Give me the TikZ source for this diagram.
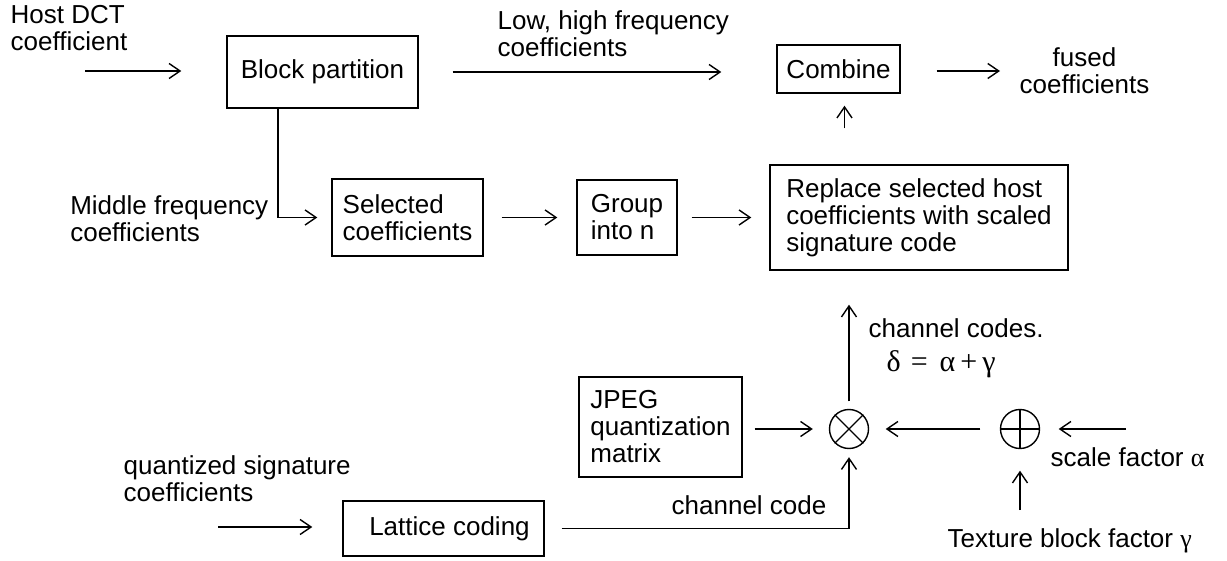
\documentclass[tikz,border=0pt]{standalone}
\usepackage{fontspec}
\setmainfont{Liberation Sans}
\newfontfamily\greek{Liberation Serif}
\usetikzlibrary{arrows.meta}

\begin{document}
\begin{tikzpicture}[x=1pt,y=-1pt,>={Straight Barb[length=11pt,width=15pt]},line width=1.4pt,
  font=\fontsize{26}{27}\selectfont,
  box/.style={draw,align=left,inner sep=2pt},
  txt/.style={align=left,inner sep=0pt},
  sum/.style={draw,circle,minimum size=39pt,inner sep=0pt}]

\useasboundingbox (0,0) rectangle (1227,561);

% Bloecke
\node[box,minimum width=191,minimum height=72] (part) at (322.5,72) {Block partition};
\node[box,minimum width=123,minimum height=48] (comb) at (838.5,69) {Combine};
\node[box,minimum width=151,minimum height=77] (sel) at (407.5,217.5) {Selected\\coefficients};
\node[box,minimum width=100,minimum height=75] (grp) at (627,217.5) {Group\\into n};
\node[box,minimum width=298,minimum height=105] (repl) at (919,217.5)
  {Replace selected host\\coefficients with scaled\\signature code};
\node[box,minimum width=163,minimum height=100] (jpeg) at (660.5,427) {JPEG\\quantization\\matrix};
\node[box,minimum width=201,minimum height=55] (lat) at (443.5,528.5) {\hspace{12pt}Lattice coding};

% Multiplikation und Addition
\node[sum] (mul) at (849,429) {};
\draw (mul.north west) -- (mul.south east) (mul.north east) -- (mul.south west);
\node[sum] (add) at (1020,429) {};
\draw (add.north) -- (add.south) (add.west) -- (add.east);

% Beschriftungen
\node[txt,anchor=north west] (hosttxt) at (10,5) {Host DCT\\coefficient};
\node[txt,anchor=north west] (lowtxt) at (497,10) {Low, high frequency\\coefficients};
\node[txt,align=center,anchor=north] (fusedtxt) at (1084.5,47) {fused\\coefficients};
\node[txt,anchor=north east] (midtxt) at (269,195) {Middle frequency\\coefficients};
\node[txt,anchor=north west] (codestxt) at (868,318) {channel codes.};
\node[txt,anchor=north west,font=\fontsize{30}{30}\selectfont\greek] (deltatxt) at (886,350)
  {δ\hspace{10pt}=\hspace{12pt}α\hspace{5pt}+\hspace{5pt}γ};
\node[txt,anchor=north west] (alphatxt) at (1050,447) {scale factor {\greek α}};
\node[txt,anchor=north west] (gammatxt) at (947,528) {Texture block factor {\greek γ}};
\node[txt,anchor=north west] (sigtxt) at (123,455) {quantized signature\\coefficients};
\node[txt,anchor=north west] (chantxt) at (671,495) {channel code};

% Eingaenge
\coordinate (hostin) at (85,71);
\coordinate (fusedout) at (1000,71);
\coordinate (alphain) at (1126,429);
\coordinate (gammain) at (1020,510);
\coordinate (sigin) at (218,527);

% Pfeile oben
\draw[->,shorten >=45pt] (hostin) -- (hostin -| part.west);
\draw[->,shorten <=34pt,shorten >=55pt] (part.east) -- (part.east -| comb.west);
\draw[->,shorten <=36pt] (comb.east |- fusedout) -- (fusedout);
\draw[->,shorten <=36pt,shorten >=12pt] ([xshift=6pt]comb.south |- repl.north) -- ([xshift=6pt]comb.south);

% Pfeile Mitte
\draw[->,shorten >=14pt] ([xshift=-44.5pt]part.south) |- (sel);
\draw[->,shorten <=18pt,shorten >=19pt] (sel) -- (grp);
\draw[->,shorten <=14pt,shorten >=18pt] (grp) -- (repl);
\draw[->,shorten <=7.5pt,shorten >=34pt] (mul.north) -- (mul.north |- repl.south);

% Pfeile unten
\draw[->,shorten <=12pt,shorten >=16pt] (jpeg.east |- mul) -- (mul);
\draw[->,shorten <=19.5pt,shorten >=16.5pt] (add) -- (mul);
\draw[->,shorten >=18.5pt] (alphain) -- (add);
\draw[->,shorten >=21.5pt] (gammain) -- (add);
\draw[->,shorten >=30pt] (sigin) -- (sigin -| lat.west);
\draw[->,shorten <=17pt,shorten >=8pt] (lat.east) -| (mul.south);

\end{tikzpicture}
\end{document}
